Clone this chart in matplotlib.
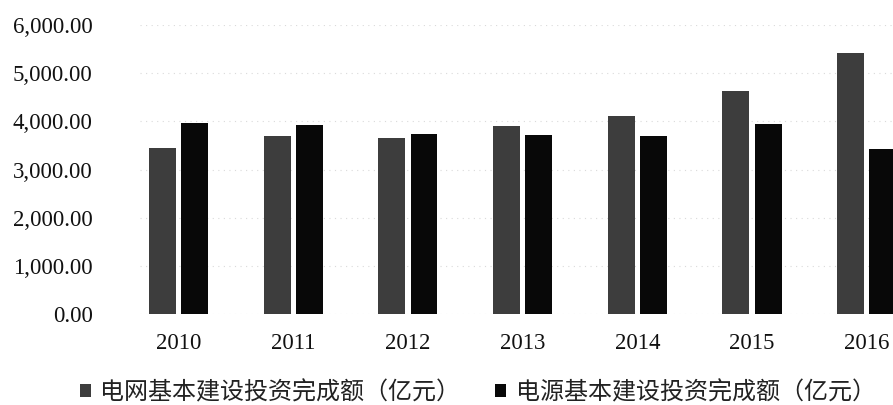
import numpy as np
import matplotlib
matplotlib.use('Agg')
import matplotlib.pyplot as plt
from matplotlib.patches import Patch
from matplotlib.ticker import FuncFormatter

# data (亿元)
years = ['2010', '2011', '2012', '2013', '2014', '2015', '2016']
grid_invest = [3448, 3687, 3661, 3894, 4118, 4640, 5426]
power_invest = [3969, 3927, 3732, 3717, 3686, 3936, 3429]
series_names = ['电网基本建设投资完成额（亿元）', '电源基本建设投资完成额（亿元）']
y_ticks = [0, 1000, 2000, 3000, 4000, 5000, 6000]

grey = '#3d3d3d'
black = '#080808'

fig = plt.figure(figsize=(8.93, 4.05), dpi=100)
ax = fig.add_axes([140 / 893, 1 - 314 / 405, 753 / 893, 289 / 405])

x = np.arange(len(years))
w = 0.235
ax.bar(x - 0.14, grid_invest, width=w, color=grey, zorder=2)
ax.bar(x + 0.14, power_invest, width=w, color=black, zorder=2)

ax.set_xlim(-0.336, 6.229)
ax.set_ylim(0, 6000)
ax.set_yticks(y_ticks)
ax.yaxis.set_major_formatter(FuncFormatter(lambda v, p: f'{v:,.2f}'))
ax.set_xticks(x)
ax.set_xticklabels(years)

for lab in ax.get_xticklabels() + ax.get_yticklabels():
    lab.set_fontfamily('Liberation Serif')
    lab.set_fontsize(16.5)
    lab.set_color('#111111')

ax.tick_params(axis='y', length=0, pad=34)
ax.tick_params(axis='x', length=0, pad=14)
for s in ax.spines.values():
    s.set_visible(False)
ax.grid(axis='y', color='#dadada', linestyle=(0, (1, 4)), linewidth=0.8, zorder=0)

# legend squares + labels
handles = [Patch(facecolor=grey, edgecolor='none'), Patch(facecolor=black, edgecolor='none')]
fig.legend(handles, series_names, loc='center left', bbox_to_anchor=(80 / 893, 1 - 392 / 405),
           ncol=2, frameon=False, handlelength=0.45, handleheight=0.45, handletextpad=0.4,
           columnspacing=1.45, prop={'family': ['Noto Sans CJK SC', 'DejaVu Sans'], 'size': 17.3},
           labelcolor='#222222', borderaxespad=0, borderpad=0)

fig.savefig('out.png', dpi=100)
